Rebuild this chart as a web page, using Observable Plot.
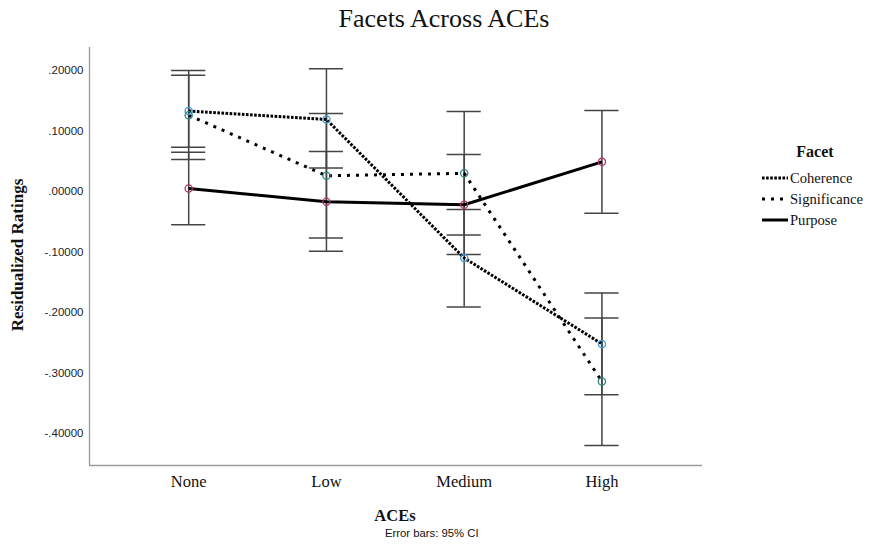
<!DOCTYPE html>
<html>
<head>
<meta charset="utf-8">
<script src="https://cdn.jsdelivr.net/npm/d3@7"></script>
<script src="https://cdn.jsdelivr.net/npm/@observablehq/plot@0.6"></script>
<style>
  html, body { margin: 0; padding: 0; background: #fff; }
  #wrap { position: relative; width: 871px; height: 548px; overflow: hidden; background: #fff; }
  #wrap > * { position: absolute; }
  .serif { font-family: "Liberation Serif", "Times New Roman", serif; color: #111; }
  .sans { font-family: "Liberation Sans", Arial, sans-serif; color: #111; }
</style>
</head>
<body>
<div id="wrap"></div>
<script>
const aces = ["None", "Low", "Medium", "High"];
const facets = ["Coherence", "Significance", "Purpose"];
const yTicks = [0.2, 0.1, 0, -0.1, -0.2, -0.3, -0.4];

const coherence      = [0.133, 0.119, -0.110, -0.252];
const coherenceLo    = [0.073, 0.039, -0.191, -0.336];
const coherenceHi    = [0.192, 0.203, -0.030, -0.168];
const significance   = [0.126, 0.026, 0.030, -0.314];
const significanceLo = [0.053, -0.077, -0.072, -0.420];
const significanceHi = [0.200, 0.129, 0.132, -0.209];
const purpose        = [0.005, -0.017, -0.022, 0.049];
const purposeLo      = [-0.055, -0.099, -0.104, -0.036];
const purposeHi      = [0.065, 0.066, 0.061, 0.134];

const seriesValues = [coherence, significance, purpose];
const seriesLo = [coherenceLo, significanceLo, purposeLo];
const seriesHi = [coherenceHi, significanceHi, purposeHi];
const dotColors = ["#3d9ad6", "#2e8580", "#b3346a"];
const dashes = ["2.6,1.5", "3,6", null];

const rows = [];
facets.forEach((f, s) => aces.forEach((a, i) => rows.push({
  facet: f, s, i, ace: a, v: seriesValues[s][i], lo: seriesLo[s][i], hi: seriesHi[s][i]
})));
const caps = rows.flatMap(d => [{i: d.i, y: d.lo}, {i: d.i, y: d.hi}]);

const xDomain = [-0.72, 3.73];
const yDomain = [-0.453, 0.238];
const capHalf = 0.124;
const fmt = v => v.toFixed(5).replace(/^(-?)0\./, "$1.");

const marks = [
  Plot.ruleX([xDomain[0]], {stroke: "#9a9a9a", strokeWidth: 1.3}),
  Plot.ruleY([yDomain[0]], {stroke: "#9a9a9a", strokeWidth: 1.3}),
  Plot.axisY({ticks: yTicks, tickFormat: fmt, tickSize: 0, tickPadding: 6, label: null,
    fontFamily: "Liberation Sans, Arial, sans-serif", fontSize: 11.5, fill: "#222"}),
  Plot.axisX({ticks: [0, 1, 2, 3], tickFormat: i => aces[i], tickSize: 0, tickPadding: 10, label: null,
    fontFamily: "Liberation Serif, Times New Roman, serif", fontSize: 16.5, fill: "#111"}),
  Plot.ruleX(rows, {x: "i", y1: "lo", y2: "hi", stroke: "#444", strokeWidth: 1.5}),
  Plot.ruleY(caps, {y: "y", x1: d => d.i - capHalf, x2: d => d.i + capHalf, stroke: "#444", strokeWidth: 1.5})
];
facets.forEach((f, s) => {
  const opts = {x: "i", y: "v", stroke: "#000", strokeWidth: 3, curve: "linear", strokeLinecap: "butt", strokeLinejoin: "miter"};
  if (dashes[s]) opts.strokeDasharray = dashes[s];
  marks.push(Plot.line(rows.filter(d => d.s === s), opts));
});
facets.forEach((f, s) => {
  marks.push(Plot.dot(rows.filter(d => d.s === s), {x: "i", y: "v", r: 3.6, stroke: dotColors[s], strokeWidth: 1.3, fill: "none"}));
});

const chart = Plot.plot({
  width: 871, height: 548,
  marginLeft: 89, marginRight: 169, marginTop: 47, marginBottom: 83,
  x: {type: "linear", domain: xDomain},
  y: {type: "linear", domain: yDomain},
  style: {background: "#fff", overflow: "visible"},
  marks
});
chart.style.left = "0px"; chart.style.top = "0px";
const wrap = document.getElementById("wrap");
wrap.appendChild(chart);

function addText(txt, cls, css) {
  const d = document.createElement("div");
  d.className = cls; d.textContent = txt;
  Object.assign(d.style, css);
  wrap.appendChild(d);
  return d;
}
addText("Facets Across ACEs", "serif", {left: "444px", top: "19px", fontSize: "26px", whiteSpace: "nowrap", transform: "translate(-50%,-50%)"});
addText("Residualized Ratings", "serif", {left: "18px", top: "255px", fontSize: "17px", fontWeight: "bold", whiteSpace: "nowrap", transform: "translate(-50%,-50%) rotate(-90deg)"});
addText("ACEs", "serif", {left: "395px", top: "516px", fontSize: "16.5px", fontWeight: "bold", transform: "translate(-50%,-50%)"});
addText("Error bars: 95% CI", "sans", {left: "385px", top: "526px", fontSize: "11.3px", lineHeight: "14px", whiteSpace: "nowrap"});

// legend
const leg = d3.create("svg").attr("width", 119).attr("height", 100)
  .style("position", "absolute").style("left", "752px").style("top", "138px");
leg.append("text").attr("x", 63).attr("y", 19).attr("text-anchor", "middle")
  .attr("font-family", "Liberation Serif, Times New Roman, serif").attr("font-size", 16).attr("font-weight", "bold").attr("fill", "#111").text("Facet");
facets.forEach((f, s) => {
  const y = 40 + s * 21;
  const ln = leg.append("line").attr("x1", 10).attr("x2", 36).attr("y1", y).attr("y2", y)
    .attr("stroke", "#000").attr("stroke-width", 3);
  if (dashes[s]) ln.attr("stroke-dasharray", dashes[s]);
  leg.append("text").attr("x", 38).attr("y", y + 5)
    .attr("font-family", "Liberation Serif, Times New Roman, serif").attr("font-size", 14.6).attr("fill", "#111").text(f);
});
wrap.appendChild(leg.node());
</script>
</body>
</html>
